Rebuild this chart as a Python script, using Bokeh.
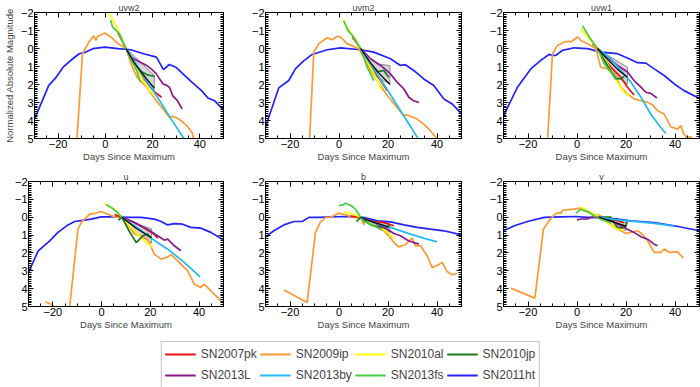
import numpy as np
from bokeh.plotting import figure
from bokeh.models import Range1d, LinearAxis, FixedTicker, Legend, LegendItem
from bokeh.layouts import column, row
from bokeh.embed import file_html
from bokeh.resources import INLINE

# ---------------- data ----------------
BANDS = ["uvw2", "uvm2", "uvw1", "u", "b", "v"]
SN_KEYS = ["ht", "ip", "pk", "al", "jp", "L", "by", "fs"]
SN_NAMES = {"pk": "SN2007pk", "ip": "SN2009ip", "al": "SN2010al", "jp": "SN2010jp",
            "L": "SN2013L", "by": "SN2013by", "fs": "SN2013fs", "ht": "SN2011ht"}
LEGEND_ORDER = ["pk", "ip", "al", "jp", "L", "by", "fs", "ht"]
X_TICKS = [-20, 0, 20, 40]
X_MINOR = [-30, -25, -15, -10, -5, 5, 10, 15, 25, 30, 35, 45, 50]
Y_TICKS = [-2, -1, 0, 1, 2, 3, 4, 5]
X_LABEL = "Days Since Maximum"
Y_LABEL = "Normalized Absolute Magnitude"

# each entry: (days since maximum, normalized magnitude)
uvw2_pk = ([5.3, 8.7, 12.5, 16.3, 19, 21, 23.8], [-0.9, 0, 0.8, 1.6, 2.15, 2.43, 2.71])
uvw2_ip = ([-12.3, -12, -9.7, -7, -4.9, -4, -3.2, -0.2, 2.3, 5.3, 8.7, 11.4, 13.5, 17.5, 21.6, 24.4, 27.1, 28.5, 31.2, 34.6, 36.7, 37.5],
           [5.5, 5, 0.29, -0.36, -0.7, -0.45, -0.68, -0.86, -0.64, -0.27, -0.03, 1.04, 1.6, 2.15, 2.9, 3.36, 3.83, 3.77, 3.92, 4.3, 4.67, 5.1])
uvw2_al = ([1.8, 4, 6.5, 8.7, 11, 13.5, 16, 18.5, 20.5], [-1.95, -1.4, -0.7, 0, 0.6, 1.2, 1.8, 2.3, 2.6])
uvw2_jp = ([8.7, 11, 13.5, 15.5, 17.5, 19, 21], [0, 0.5, 1.04, 1.31, 1.45, 1.5, 1.54])
uvw2_L = ([8.7, 10, 12, 14.8, 17.5, 19.5, 21.6, 23, 24.4, 26, 27.1, 28.5, 30.5, 32.5],
          [0, 0.35, 0.57, 0.76, 0.94, 1.15, 1.41, 1.7, 1.97, 2.05, 2.15, 2.62, 2.9, 3.36])
uvw2_by = ([8.7, 13, 18, 23, 28, 33.5], [0, 0.88, 1.9, 2.9, 3.95, 5.06])
uvw2_fs = ([2.3, 3, 4.2, 6, 8.7, 10.7, 13.5, 14.8], [-1.57, -1.2, -1.05, -0.8, 0, 0.57, 1.3, 1.87])
uvw2_ht = ([-30, -24, -20.6, -17.9, -13.8, -11.1, -8.3, -5.3, -0.2, 5.3, 10.7, 16.2, 21.6, 24.6, 27.1, 29.8, 32.5, 36.6, 40.7, 43.4, 46.2, 50],
           [3.92, 2.06, 1.56, 1.04, 0.57, 0.29, 0.2, 0.01, -0.08, 0.01, 0.07, 0.29, 0.48, 1.17, 0.89, 1.04, 1.37, 1.87, 2.34, 2.75, 2.9, 3.42])
uvw2_band = ([8.7, 12.8, 16.3, 20.7, 20.7, 16.3, 12.8], [0, 0.48, 0.94, 1.5, 2.3, 1.75, 1.04])
uvw2_mean = ([8.7, 12, 16, 20.7], [0, 0.75, 1.45, 2.2])

uvm2_pk = ([5.4, 8.8, 12, 15.6, 19.7], [-0.64, 0, 0.7, 1.5, 2.34])
uvm2_ip = ([-12.3, -12, -10.3, -8.2, -4.8, -2.8, -0.7, 0.6, 3.3, 8.1, 10.1, 12.9, 15.6, 18.3, 20.3, 23.7, 26.5, 27.5, 31.9, 34.6, 37.3, 40.2],
           [5.5, 5, 0.2, -0.27, -0.6, -0.49, -0.68, -0.64, -0.27, 0.01, 0.48, 1.22, 1.78, 2.34, 2.71, 3.27, 3.74, 3.68, 3.92, 4.2, 4.57, 5.05])
uvm2_al = ([1.3, 4, 6.5, 8.8, 11.5, 14.2, 17.6], [-1.6, -1.05, -0.5, 0, 0.7, 1.4, 2.34])
uvm2_jp = ([8.8, 12, 15.6, 18.3, 20.3], [0, 0.7, 1.3, 1.22, 1.6])
uvm2_L = ([8.8, 12.9, 17, 21, 23.7, 26.5, 28.5, 30.3, 32.6], [0, 0.57, 0.94, 1.41, 1.87, 2.25, 2.71, 2.9, 2.99])
uvm2_by = ([8.8, 14, 20, 26, 32.5], [0, 1.1, 2.35, 3.65, 5.05])
uvm2_fs = ([2, 3.6, 6, 8.8, 11.5, 14.2], [-1.53, -1.01, -0.64, 0, 1.03, 1.78])
uvm2_ht = ([-30, -24.6, -20.5, -17.8, -15, -11, -4.8, 0.6, 8.8, 14.2, 21, 25.1, 27.1, 30.5, 34.6, 38.7, 42.8, 46.2, 50],
           [4.35, 2.19, 1.78, 1.13, 0.76, 0.33, 0.07, -0.03, 0.07, 0.2, 0.57, 0.94, 0.9, 1.22, 1.69, 2.06, 2.8, 3.08, 3.64])
uvm2_band = ([8.8, 12.9, 15.6, 20.8, 20.8, 15.6, 12.9], [0, 0.55, 0.85, 0.95, 1.97, 1.6, 1.0])
uvm2_mean = ([8.8, 12.9, 16.5, 20.8], [0, 0.8, 1.4, 2.0])

uvw1_pk = ([6.3, 8.4, 11, 13.8, 17.9, 20.6, 23.3], [-0.27, 0, 0.55, 1.04, 1.6, 2.15, 2.58])
uvw1_ip = ([-12.3, -12, -10, -8, -5.2, -3.2, -2.5, 0.2, 1.6, 4.3, 7.7, 8.4, 9.7, 12.4, 15.2, 17.9, 20.6, 23.3, 26.1, 28.8, 30.8, 32.9, 35.6, 38.3, 41, 42.4, 43.7, 45.1, 46.2, 47.1, 49],
           [5.5, 5, 0.29, -0.17, -0.36, -0.4, -0.36, -0.64, -0.45, -0.27, 0.01, 0.38, 1.04, 1.13, 1.41, 2.15, 2.53, 2.8, 2.9, 2.99, 3.12, 3.46, 3.64, 4.35, 4.48, 4.29, 4.76, 5.0, 4.9, 5.0, 5.3])
uvw1_al = ([1.6, 5, 8.4, 12.4, 16.5, 19.2, 21.3], [-1.1, -0.55, 0, 0.85, 1.87, 2.43, 2.62])
uvw1_jp = ([8.4, 12.4, 15.9, 17.9, 19.3], [0, 0.94, 1.68, 1.68, 1.55])
uvw1_L = ([8.4, 12.4, 16.5, 20.6, 23.3, 26.1, 28.1, 30.1, 32.6], [0, 0.48, 0.94, 1.31, 1.78, 2.15, 2.43, 2.49, 2.75])
uvw1_by = ([9, 13.8, 17.9, 22, 26.1, 30.1, 34.2, 36.3], [0.07, 0.57, 1.22, 1.87, 2.71, 3.64, 4.39, 4.72])
uvw1_fs = ([2.3, 5, 8.4, 11.1, 13.8, 15.9], [-1.25, -0.64, 0, 0.85, 1.31, 1.74])
uvw1_ht = ([-30, -24.3, -18.8, -14.8, -11.4, -10, -8.6, -5.9, -1.2, 4.3, 9.7, 16.5, 21.3, 24.7, 28.1, 31.5, 35.6, 39.7, 43.7, 47.8, 50],
           [3.74, 2.15, 1.13, 0.66, 0.33, 0.38, 0.38, 0.1, -0.04, 0.01, 0.2, 0.29, 0.57, 0.79, 0.81, 1.13, 1.5, 1.97, 2.34, 2.62, 2.77])
uvw1_band = ([8.4, 13.8, 20.6, 20.6, 15.2, 11.1], [0, 0.48, 1.04, 1.97, 1.5, 0.75])
uvw1_mean = ([8.4, 12.5, 16.5, 20.6], [0, 0.6, 1.15, 1.6])

u_pk = ([5.3, 8.3, 13.5, 17.5, 21.6, 23], [-0.15, 0, 0.3, 0.6, 0.95, 1.17])
u_ip = ([-23, -20.6, -18, -14, -13.1, -9.7, -8.3, -4.9, -2.9, -0.2, 2.6, 5.3, 8, 10.7, 13.5, 16.2, 18.9, 21.6, 24.4, 27.1, 28.5, 31.2, 35.3, 38, 40.7, 42.1, 44.8, 47.5, 48.9],
        [4.75, 4.87, 5.2, 5.5, 5.0, 0.67, 0.29, -0.17, -0.21, -0.32, -0.17, -0.02, 0.01, 0.39, 0.95, 1.04, 1.23, 2.07, 2.35, 2.22, 2.1, 2.44, 3.0, 3.75, 3.93, 3.75, 4.12, 4.49, 4.68])
u_al = ([1.2, 5.3, 8.3, 13.5, 17.5, 21], [-0.77, -0.45, 0, 0.77, 1.32, 1.69])
u_jp = ([6.9, 8.3, 11.4, 14.2, 16.9, 18.9, 20.3], [0.17, 0, 0.8, 1.42, 1.04, 0.95, 1.17])
u_L = ([8.3, 13.5, 18.9, 23, 25.7, 27.1, 29.8, 32.5], [0, 0.3, 0.69, 1.04, 1.28, 1.23, 1.6, 1.88])
u_by = ([8, 13.5, 20.3, 27.1, 33.9, 40.4], [-0.02, 0.48, 1.17, 1.79, 2.53, 3.34])
u_fs = ([1.9, 3.9, 6, 8.3], [-0.7, -0.55, -0.32, 0])
u_ht = ([-30, -26, -21.3, -17.9, -13.8, -11.1, -7, -4.3, -0.2, 5.3, 10.7, 16.2, 21.6, 24.4, 27.1, 29.8, 33.2, 36.6, 40.7, 44.8, 50],
        [3.09, 1.88, 1.32, 0.85, 0.43, 0.24, 0.16, 0.11, -0.02, -0.02, 0.01, 0.01, 0.11, 0.24, 0.43, 0.36, 0.39, 0.57, 0.61, 0.85, 1.28])
u_band = ([8.3, 14, 20.5, 20.5, 14], [0, 0.35, 0.65, 1.45, 0.9])
u_mean = ([8.3, 14, 20.5], [0, 0.6, 1.15])

b_pk = ([4.7, 8.8, 14.2, 18.3, 22.4], [-0.06, 0, 0.24, 0.3, 0.48])
b_ip = ([-22.5, -13, -9.6, -7.6, -5.5, -3.5, -0.1, 2.7, 6, 8.8, 9.5, 10.1, 10.5, 12.9, 15.6, 18.3, 20.3, 22.4, 24.4, 27.1, 29.9, 31.2, 33.3, 36, 38, 40, 42.1, 44.1, 46.2, 48.2],
        [4.08, 4.77, 0.85, 0.29, 0.01, 0.01, -0.23, -0.13, 0.01, 0.05, 0.2, 0.43, 0.11, 0.39, 0.57, 0.76, 1.04, 1.41, 1.66, 1.54, 1.17, 1.6, 1.6, 2.16, 2.81, 2.72, 2.53, 3.04, 3.22, 3.15])
b_al = ([2, 6, 8.8, 12.9, 17, 19.7, 22.4], [-0.3, -0.17, 0, 0.39, 0.57, 0.85, 1.17])
b_jp = ([7.1, 8.1, 8.8, 12.9, 17, 19.7, 20.7], [0.24, 0.11, 0, 0.43, 0.57, 0.57, 0.43])
b_L = ([8.8, 14.2, 19.7, 22.4, 25.1, 27.8, 29.2, 32.6], [0, 0.3, 0.67, 0.91, 1.04, 1.28, 1.36, 1.51])
b_by = ([8.8, 14.2, 21, 29.2, 34.6, 40], [-0.02, 0.3, 0.57, 0.95, 1.17, 1.38])
b_fs = ([-0.1, 1.3, 2.6, 4.7, 6.7, 8.1, 8.8, 10.1, 12.9, 15.6, 17.6], [-0.67, -0.67, -0.78, -0.67, -0.45, -0.17, 0, 0.24, 0.39, 0.57, 0.72])
b_ht = ([-30, -26.6, -22.5, -18.4, -15, -12.3, -7.6, -3.5, 3.3, 10.1, 15.6, 21, 26.5, 31.9, 37.3, 42.8, 50],
        [1.1, 0.76, 0.43, 0.24, 0.24, 0.01, 0.01, -0.02, -0.04, 0.01, 0.2, 0.26, 0.43, 0.57, 0.67, 0.76, 0.99])
b_band = ([8.8, 14.5, 20.7, 20.7, 14.5], [0, 0.2, 0.35, 0.85, 0.5])
b_mean = ([8.8, 14.5, 20.5], [0, 0.3, 0.55])

v_pk = ([7, 12.4, 16.5, 19.2], [0, 0.1, 0.2, 0.3])
v_ip = ([-27, -17.2, -13.7, -11.4, -9.3, -8, -6.6, -5.9, -1.2, 0.9, 2.9, 5, 7, 9.7, 12.4, 15.2, 17.9, 20, 22, 24.7, 26.7, 28.8, 31.5, 34.2, 35.6, 37.6, 41, 43.5],
        [3.97, 4.53, 0.67, 0.2, -0.13, -0.26, -0.21, -0.39, -0.45, -0.51, -0.36, -0.26, -0.17, -0.08, 0.3, 0.57, 0.76, 0.91, 0.85, 0.76, 0.95, 1.32, 1.97, 1.97, 1.78, 1.97, 1.94, 2.29])
v_al = ([1.3, 4.3, 8.4, 12.4, 16.5, 19.3], [-0.58, -0.36, -0.08, 0.3, 0.67, 0.72])
v_jp = ([9.7, 13.8, 15.2, 16.5, 18.6, 20, 20.6], [0, 0, 0.3, 0.57, 0.6, 0.48, 0.2])
v_L = ([0, 1.5, 4.3, 5.6, 9.7, 13.8, 17.9, 20.6, 23.3, 26.1, 28.8, 31.5, 32.9], [0.15, 0.1, 0.1, 0.01, 0, 0.2, 0.48, 0.67, 0.85, 1.09, 1.23, 1.51, 1.6])
v_by = ([9.7, 16.5, 24, 31.5, 39.7], [0, 0.15, 0.25, 0.35, 0.5])
v_fs = ([-0.5, 1.6, 4.3, 7, 9.7, 11.1, 13.1, 13.8], [-0.21, -0.45, -0.32, -0.08, 0.11, 0.2, 0.26, 0.35])
v_ht = ([-30, -25.6, -20.2, -13.4, -6.6, -0.5, 4.3, 9.7, 16.5, 21.9, 26.1, 31.5, 39.7, 50],
        [0.76, 0.48, 0.24, 0.01, -0.02, -0.04, 0.01, 0.01, 0.11, 0.2, 0.24, 0.3, 0.48, 0.76])
v_band = ([9, 14.5, 20, 20, 14.5], [0, 0.15, 0.3, 0.75, 0.45])
v_mean = ([9, 14.5, 20], [0, 0.25, 0.5])

# ---------------- styling ----------------
COLORS = {"pk": "#ee1111", "ip": "#ff9933", "al": "#ffff00", "jp": "#1a7a1a",
          "L": "#8b1a8b", "by": "#22bbee", "fs": "#44cc44", "ht": "#2222ff"}
FONT = "Liberation Sans"
Y_MINOR = [round(v, 1) for v in np.arange(-2, 5.001, 0.1)]


def get(band, key):
    return globals()[f"{band}_{key}"]


def style_axis(ax, ticker, labels, minor_len):
    ax.ticker = ticker
    ax.axis_line_color = "black"
    ax.major_tick_line_color = "black"
    ax.minor_tick_line_color = "black"
    ax.major_tick_in = 5
    ax.major_tick_out = 0
    ax.minor_tick_in = minor_len
    ax.minor_tick_out = 0
    ax.major_label_text_font = FONT
    if labels:
        ax.major_label_text_color = "black"
        ax.major_label_text_font_size = "11px"
        ax.major_label_standoff = 1
    else:
        ax.major_label_text_color = None
        ax.major_label_text_font_size = "1px"
        ax.major_label_standoff = 0


def panel(band, width, height, left, right, show_ylabel):
    p = figure(width=width, height=height, x_range=Range1d(-30, 50), y_range=Range1d(5, -2),
               output_backend="svg", toolbar_location=None,
               min_border_left=left, min_border_right=right, min_border_top=12, min_border_bottom=31,
               background_fill_color="white", border_fill_color="white")
    p.grid.visible = False
    p.outline_line_color = "black"
    p.title.text = band
    p.title.align = "center"
    p.title.text_font = FONT
    p.title.text_font_size = "9px"
    p.title.text_font_style = "normal"
    p.title.standoff = 0
    p.title.offset = 0

    style_axis(p.xaxis[0], FixedTicker(ticks=X_TICKS, minor_ticks=X_MINOR), True, 3)
    style_axis(p.yaxis[0], FixedTicker(ticks=Y_TICKS, minor_ticks=Y_MINOR), True, 3)
    p.xaxis[0].axis_label = X_LABEL
    p.xaxis[0].axis_label_text_font = FONT
    p.xaxis[0].axis_label_text_font_size = "9.5px"
    p.xaxis[0].axis_label_text_font_style = "normal"
    p.xaxis[0].axis_label_standoff = 0
    if show_ylabel:
        p.yaxis[0].axis_label = Y_LABEL
        p.yaxis[0].axis_label_text_font = FONT
        p.yaxis[0].axis_label_text_font_size = "9.5px"
        p.yaxis[0].axis_label_text_font_style = "normal"
        p.yaxis[0].axis_label_standoff = 3

    top = LinearAxis()
    style_axis(top, FixedTicker(ticks=X_TICKS, minor_ticks=X_MINOR), False, 3)
    p.add_layout(top, "above")
    rgt = LinearAxis()
    style_axis(rgt, FixedTicker(ticks=Y_TICKS, minor_ticks=Y_MINOR), False, 3)
    p.add_layout(rgt, "right")

    bx, by_ = get(band, "band")
    p.patch(bx, by_, fill_color="#d4d4d4", line_color="#777777", line_width=0.8)
    for key in SN_KEYS:
        xs, ys = get(band, key)
        p.line(xs, ys, line_color=COLORS[key], line_width=1.7)
    mx, my = get(band, "mean")
    p.line(mx, my, line_color="black", line_width=1.2)
    return p


f1 = panel("uvw2", 237, 169, 28, 14, True)
f2 = panel("uvm2", 238, 169, 28, 14, False)
f3 = panel("uvw1", 225, 169, 28, 1, False)
f4 = panel("u", 237, 168, 28, 14, False)
f5 = panel("b", 238, 168, 28, 14, False)
f6 = panel("v", 225, 168, 28, 1, False)

# legend figure (sample lines lie outside its visible range; only the legend shows)
lf = figure(width=700, height=50, output_backend="svg", toolbar_location=None,
            x_axis_type=None, y_axis_type=None, min_border=0,
            x_range=Range1d(0, 1), y_range=Range1d(0, 1))
lf.grid.visible = False
lf.outline_line_color = None
items = []
for key in LEGEND_ORDER:
    r = lf.line([5, 6], [5, 6], line_color=COLORS[key], line_width=2)
    items.append(LegendItem(label=SN_NAMES[key], renderers=[r]))
leg = Legend(items=items, location="top_center", orientation="horizontal", ncols=4,
             label_text_font=FONT, label_text_font_size="12px",
             glyph_width=31, glyph_height=18, label_height=18, label_standoff=5,
             spacing=3, padding=3, margin=4,
             border_line_color="#888888", border_line_width=1, background_fill_color="white")
lf.add_layout(leg)

layout = column(row(f1, f2, f3), row(f4, f5, f6), lf)
open("out.html", "w").write(file_html(layout, INLINE))
